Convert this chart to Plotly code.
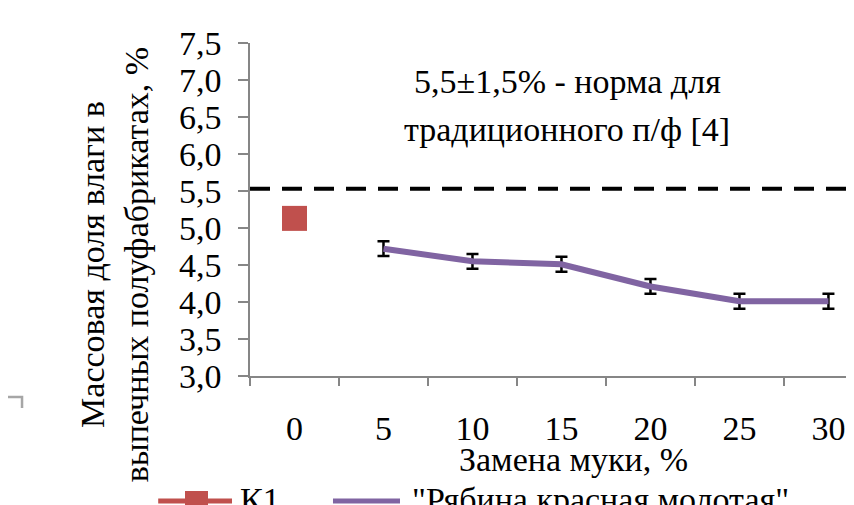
import plotly.graph_objects as go

# ---- data ----
categories = ["0", "5", "10", "15", "20", "25", "30"]
k1_name = "К1"
k1_x = ["0"]
k1_y = [5.13]
rowan_name = "\"Рябина красная молотая\""
rowan_x = ["5", "10", "15", "20", "25", "30"]
rowan_y = [4.72, 4.55, 4.51, 4.21, 4.01, 4.01]
rowan_err = [0.10, 0.10, 0.10, 0.10, 0.10, 0.10]
norm_value = 5.53
y_ticks = [3.0, 3.5, 4.0, 4.5, 5.0, 5.5, 6.0, 6.5, 7.0, 7.5]
y_tick_text = ["3,0", "3,5", "4,0", "4,5", "5,0", "5,5", "6,0", "6,5", "7,0", "7,5"]

FONT = "Liberation Serif"
AXIS_GRAY = "#868686"
RED = "#C0504D"
PURPLE = "#8064A2"
FS = 34

fig = go.Figure()

fig.add_trace(go.Scatter(
    x=k1_x, y=k1_y, mode="markers", name=k1_name, showlegend=False,
    marker=dict(symbol="square", size=25, color=RED),
))

fig.add_trace(go.Scatter(
    x=rowan_x, y=rowan_y, mode="lines", name=rowan_name, showlegend=False,
    line=dict(color=PURPLE, width=6),
    error_y=dict(type="data", array=rowan_err, visible=True,
                 color="black", thickness=2.5, width=6),
))

fig.add_shape(type="line", xref="paper", x0=0, x1=1, yref="y",
              y0=norm_value, y1=norm_value,
              line=dict(color="black", width=4, dash="20px,12px"))

# chart-area border corner fragment
fig.add_shape(type="path", xref="paper", yref="paper",
              path="M -0.42 -0.063 L -0.3725 -0.063 L -0.3725 -0.096",
              line=dict(color="#A6A6A6", width=2.5))

# legend (below the chart, partly cut by the frame)
fig.add_shape(type="line", xref="paper", yref="paper",
              x0=-0.150, x1=-0.0294, y0=-0.3754, y1=-0.3754,
              line=dict(color=RED, width=5))
fig.add_shape(type="rect", xref="paper", yref="paper",
              x0=-0.1062, x1=-0.0686, y0=-0.3453, y1=-0.414,
              line=dict(width=0), fillcolor=RED)
fig.add_shape(type="line", xref="paper", yref="paper",
              x0=0.1356, x1=0.2451, y0=-0.3754, y1=-0.3754,
              line=dict(color=PURPLE, width=5))
fig.add_annotation(text=k1_name, xref="paper", yref="paper",
                   x=-0.0196, y=-0.372, xanchor="left", yanchor="middle",
                   showarrow=False, font=dict(family=FONT, size=FS))
fig.add_annotation(text=rowan_name, xref="paper", yref="paper",
                   x=0.2614, y=-0.372, xanchor="left", yanchor="middle",
                   showarrow=False, font=dict(family=FONT, size=FS))

fig.add_annotation(text="5,5±1,5% - норма для", xref="paper", yref="paper",
                   x=0.518, y=0.883, xanchor="center", yanchor="middle",
                   showarrow=False, font=dict(family=FONT, size=FS))
fig.add_annotation(text="традиционного п/ф [4]", xref="paper", yref="paper",
                   x=0.518, y=0.739, xanchor="center", yanchor="middle",
                   showarrow=False, font=dict(family=FONT, size=FS))
fig.add_annotation(text="Замена муки, %", xref="paper", yref="paper",
                   x=0.528, y=-0.252, xanchor="center", yanchor="middle",
                   showarrow=False, font=dict(family=FONT, size=FS))
fig.add_annotation(text="Массовая доля влаги в<br>выпечных полуфабрикатах, %",
                   xref="paper", yref="paper", x=-0.222, y=0.333,
                   xanchor="center", yanchor="middle",
                   textangle=-90, showarrow=False,
                   font=dict(family=FONT, size=FS))

fig.update_layout(
    width=854, height=505,
    margin=dict(l=242, r=0, t=35, b=137, autoexpand=False),
    plot_bgcolor="white",
    font=dict(color="black"),
    showlegend=False,
)

fig.update_xaxes(
    type="category",
    range=[-0.5, 6.377], tickson="boundaries", ticks="outside", ticklen=8,
    tickcolor=AXIS_GRAY, tickwidth=1.5, showline=True, linecolor=AXIS_GRAY,
    linewidth=1.5, showgrid=False, ticklabelstandoff=21,
    tickfont=dict(family=FONT, size=FS),
)
fig.update_yaxes(
    range=[3.0, 7.5], tickvals=y_ticks, ticktext=y_tick_text, ticks="outside",
    ticklen=10, tickcolor=AXIS_GRAY, tickwidth=1.5, showline=True,
    linecolor=AXIS_GRAY, linewidth=1.5, showgrid=False,
    ticklabelstandoff=10, tickfont=dict(family=FONT, size=FS),
)

fig.write_html("out.html")
